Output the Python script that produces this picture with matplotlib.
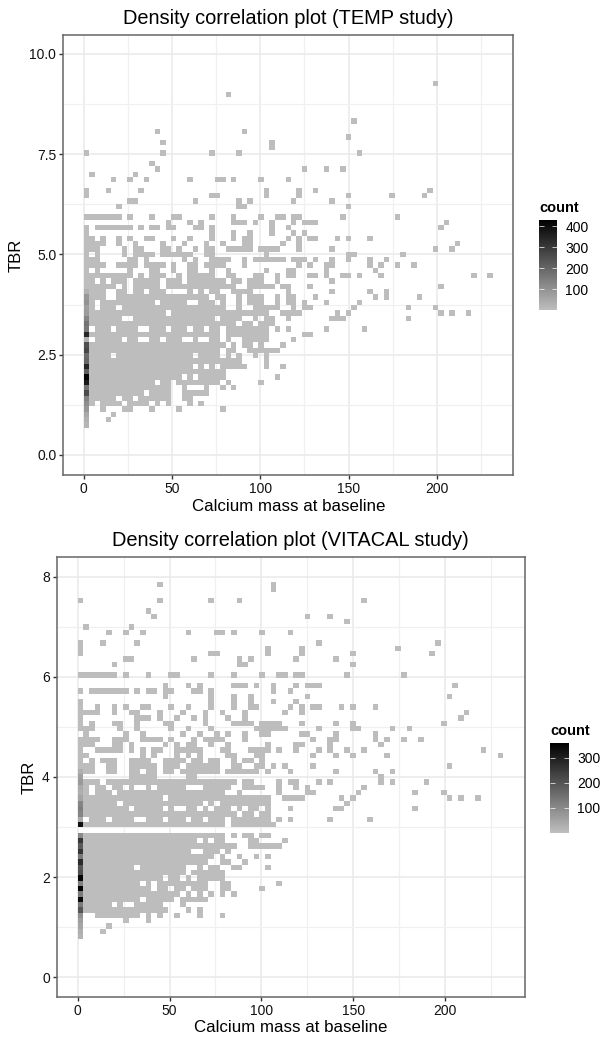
"""Density correlation plots for the TEMP and VITACAL studies."""

import matplotlib

matplotlib.use("Agg")
import matplotlib.pyplot as plt
import numpy as np
from matplotlib.cm import ScalarMappable
from matplotlib.colors import LinearSegmentedColormap, Normalize

plt.rcParams["font.family"] = ["Liberation Sans", "DejaVu Sans"]

# occupied bins per TBR row, bottom row first ("a-b" is a run of calcium bins)
temp_rows = [
    "0", "0 4", "0 5", "0 3 7-8 12 17 25",
    "0-1 3-6 8-11 13 15 19 21",
    "0-5 7-8 10-15 18-19",
    "0-10 12-15 18-22",
    "0-15 18 22 25 27",
    "0-12 14-15 17-24 26 32",
    "0-17 19 21-25 35",
    "0-25",
    "0-19 21 23 25-29 33 36",
    "0-28 33",
    "0-4 6-19 21-24 26 28 31 33",
    "0-24 26-27 30-35",
    "0-25 27 29-30 32 36",
    "0 2-6 8-9 12-13 15-17 20 23-24 26 29-33 38",
    "0-24 26-33 40-41",
    "0 2-4 6-9 12-14 16-18 20-21 23-24 26-33 35 37 44 51",
    "0-27 29-30 32-34",
    "0-6 9-23 25-28 31 33-34 37 45-47 59",
    "0-14 16-33 36-39 46 48 65 67 70",
    "0-1 3-5 7-25 28 31-35 38 40-41 49 59 64",
    "0-1 3-12 14-18 21-23 25 28 30-32 35 37-38 40 44 50",
    "0-3 6-22 24-25 28 30-32 35 37-38 42 53 55 61",
    "0-3 6-7 9-10 12-14 19 21 23-24 27-30 37 45 52 55",
    "0-5 7 9-13 15-27 30-34 36-37 41 65",
    "0-1 3 5-7 9-13 15-17 19-25 27-28 30-32 35 45",
    "0-8 10 12-14 17 19-23 26-27 31-32 35 37-38 41-42 44 47-48 50 54 71 74",
    "0 2 8 12-13 16 19-20 23 26 33 37-38 44 53",
    "0-3 6-9 11-14 16 19-20 22-25 29 39 41 44-45 52 54 57 60",
    "0-2 8-9 11 18 20 23-26 29 31-36 38-40 42 45 48 52 55",
    "0 2 7 9-12 14-19 22-23 33 48-49 58",
    "0-2 7 9-10 14-15 17 20 22-23 26-30 32-35 39 45 64 67",
    "0-3 6 9 14 18 22 25 29-30 36 39 68",
    "0-1 3 6 8 11-12 16 19 23 27 29-30 37 39 41-42 46 48 52",
    "0 23 27 30 34 38 40",
    "0 2-8 10 12-13 15-16 20-21 23 34 37 65",
    "15 19 21 27-29 31 34 38 40-42 66",
    "0-6 8 12 16-17 23 27 32 35-36 38-39 47 57",
    "",
    "6 28-29 48",
    "8-9 20 28 30 38 45",
    "0 23-24 33 39 48 56 62",
    "0 4 10 33 39 42 63",
    "",
    "5 8 11 19 24-25 27 32 37",
    "1 9",
    "13 40 44 47",
    "12",
    "",
    "0 14 23 28 50",
    "34",
    "14 34",
    "48",
    "13 29",
    "",
    "49",
    "", "", "", "",
    "26",
    "",
    "64",
]
# counts in the first calcium bin, bottom row first
temp_first_bin = [20, 30, 50, 90, 110, 140, 260, 170, 370, 420, 220, 340, 200, 190, 270, 250,
                  30, 340, 160, 170, 130, 80, 70, 100, 90, 30]
temp_other = 4

vitacal_rows = [
    "0", "0 4", "0 5", "0 8 12",
    "0 3-10 12 14 17 21 25",
    "0-15 19 21",
    "0-5 7 10-14 18",
    "0-10 12-16 18-22",
    "0-17 19 21 23 25 27",
    "0-12 14-15 17-18 20-22 25-26 32",
    "0-10 12 14-22 25-26 35",
    "0-14 16-17 19 21-25",
    "0-18 20-25",
    "0-9 11-18 21 23-24 27-28 33",
    "0-22 25-26 29",
    "0-23 25 28 31 33",
    "0-19 22-24 26",
    "0-27 30-35",
    "0-20 22 24-25 30-31 36",
    "0-25 27 29-30 32-33",
    "",
    "0-25 27-34",
    "0 2-4 6-9 12-14 16-18 20-21 23-25 27-33 35 37 44 51 37",
    "0-27 29-30 32-33",
    "0-8 10-14 16 19-20 22 24-26 28 30-31 33 37 45-46 59",
    "0-6 8-21 23 25-33 47",
    "0-14 16-33 36-39 46 48 65 67 70",
    "0-1 3-5 7-25 28 35 40-41 49 59 64",
    "0-1 3-4 6-7 9 12 14-18 22-26 29-32 35 38 40 50",
    "0-3 5-27 29-30 35 37-38 42 44 53 55 61",
    "0 9-13 19-20 53",
    "0-2 5-6 9-10 12-13 15-16 18-24 26-31 33 37 45 52 55",
    "0-2 5-6 9-13 15-17 19-24 27-28 31-32 34 36 41 65",
    "0 2 4-6 9-12 15-18 20-21 23-24 27 29-30 32",
    "0-1 11 13 17 19 21 26-27 31-32 41 45 48 54 74",
    "0 3-7 9 11 13-14 17-21 25-26 30-33 35 38 42 44 47 50 71",
    "0-2 6-7 9 15 17 19-20 23 26 33 38-39 44 53",
    "0-3 6-8 11-14 16 20 22-25 29 41 44-45 52 54 57 60",
    "1 8 11 18 21 24 26 29 32-33 39-40 45 52",
    "0-2 7 10 16 19 23 31-36 42 48-49 55 58",
    "0 2 6-7 10 15-16 22 27-30 32-35 39 45 48 64",
    "0 10-12 14 17 20 22 26 29 67",
    "0-3 6 9-10 14 18 22 25 29 36 39 68",
    "0 3 6 8 11-12 16 19 23 27 30-31 37 39 41-42 46 48 52",
    "0 23 27 30 34 38",
    "15 23 27 30 40 65",
    "0 2-8 10 12-13 15-16 20-21 23 34 37",
    "15 19 21 27-29 31 34 38 40-42 66",
    "",
    "0-6 8 12 16-17 23 27 32 35-36 38-39 47 57",
    "",
    "6 28-29 48",
    "8-9 20 28 30 38 45",
    "0 23-24 33 39 48 62",
    "0 33 39 56",
    "0 4 10 42 63",
    "",
    "5 8 11 19 24-25 27 32 37",
    "1 9",
    "47",
    "13 40 44",
    "12",
    "",
    "0 14 23 28 50",
    "",
    "34",
    "14 34",
]
vitacal_first_bin = [20, 30, 50, 60, 90, 200, 130, 340, 130, 360, 120, 350, 210, 200, 280, 130,
                     260, 190, 260, 100, 0, 330, 40, 110, 120, 110, 50, 30, 40, 70, 60, 30]
vitacal_other = 4

BIN_W = 3.09
GREYS = LinearSegmentedColormap.from_list("count_grey", ["#BEBEBE", "#000000"])
W, H = 600, 1037


def bin_counts(rows, first_bin, other):
    grid = np.full((len(rows), 76), np.nan)
    for k, row in enumerate(rows):
        for part in row.split():
            a, _, b = part.partition("-")
            grid[k, int(a):int(b or a) + 1] = other
        if k < len(first_bin) and first_bin[k] > 0:
            grid[k, 0] = first_bin[k]
    return grid


def add_panel(fig, box, rows, first_bin, other, y0, bin_h, xlim, ylim, yticks, yminor, vmax, ticks, cbox, title):
    left, top, right, bottom = box
    ax = fig.add_axes([left / W, 1 - bottom / H, (right - left) / W, (bottom - top) / H])
    grid = bin_counts(rows, first_bin, other)
    norm = Normalize(1, vmax)
    xe = np.arange(grid.shape[1] + 1) * BIN_W
    ye = y0 + np.arange(grid.shape[0] + 1) * bin_h
    ax.pcolormesh(xe, ye, np.ma.masked_invalid(grid), cmap=GREYS, norm=norm, zorder=2, linewidth=0)
    ax.set_xlim(*xlim)
    ax.set_ylim(*ylim)
    ax.set_xticks([0, 50, 100, 150, 200])
    ax.set_xticks([25, 75, 125, 175, 225], minor=True)
    ax.set_yticks(yticks)
    ax.set_yticklabels([f"{v:.1f}" if yminor == 1.25 else f"{v:g}" for v in yticks])
    ax.set_yticks(np.arange(yminor, ylim[1], yminor * 2), minor=True)
    ax.grid(True, which="major", color="#EAEAEA", lw=1.1, zorder=0)
    ax.grid(True, which="minor", color="#F0F0F0", lw=0.9, zorder=0)
    ax.set_axisbelow(True)
    ax.tick_params(which="minor", length=0)
    ax.tick_params(which="major", length=3, width=1, color="#333333", labelsize=10, labelcolor="#111111", pad=2)
    for s in ax.spines.values():
        s.set_color("#666666")
        s.set_linewidth(1.1)
    ax.set_xlabel("Calcium mass at baseline", fontsize=12.2, labelpad=2)
    ax.set_ylabel("TBR", fontsize=12, labelpad=4)
    ax.set_title(title, fontsize=14.4, pad=8)

    cl, ct, cr, cb = cbox
    cax = fig.add_axes([cl / W, 1 - cb / H, (cr - cl) / W, (cb - ct) / H])
    cbar = fig.colorbar(ScalarMappable(norm=norm, cmap=GREYS), cax=cax)
    cbar.set_ticks(ticks)
    cbar.outline.set_visible(False)
    cax.yaxis.set_ticks_position("both")
    cax.tick_params(which="both", direction="in", color="white", width=0.5, length=3.5,
                    labelleft=False, labelright=True, labelsize=10, pad=6)
    cax.minorticks_off()
    cax.set_title("count", fontsize=10.5, fontweight="bold", loc="left", pad=6)
    return ax


fig = plt.figure(figsize=(W / 100, H / 100), dpi=100)
add_panel(fig, (63.3, 35, 513.3, 475), temp_rows, temp_first_bin, temp_other,
          0.68, 0.133, (-11.55, 243.3), (-0.5, 10.47), [0, 2.5, 5, 7.5, 10], 1.25,
          430, [100, 200, 300, 400], (539, 220, 557, 310), "Density correlation plot (TEMP study)")
add_panel(fig, (56.7, 557.3, 525, 996.7), vitacal_rows, vitacal_first_bin, vitacal_other,
          0.754, 0.1067, (-11.44, 243.6), (-0.39, 8.39), [0, 2, 4, 6, 8], 1,
          360, [100, 200, 300], (550, 743, 568.7, 832.7), "Density correlation plot (VITACAL study)")
fig.savefig("out.png", dpi=100)
plt.close(fig)
